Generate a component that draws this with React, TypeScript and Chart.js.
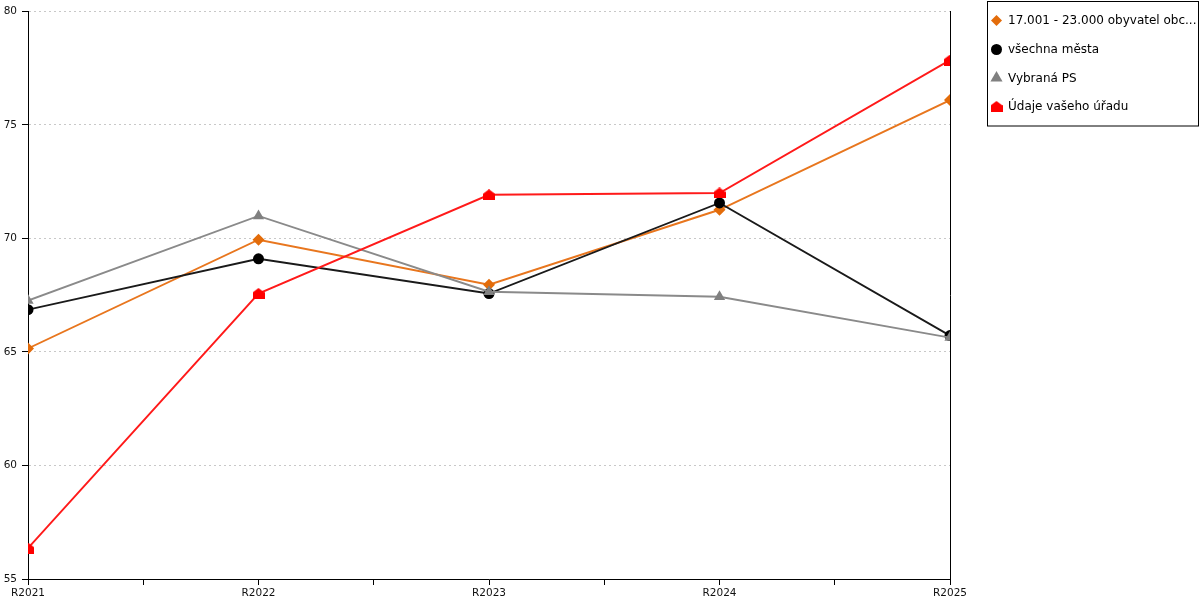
import React, { useEffect, useRef } from "react";
import { Chart, registerables } from "chart.js";

Chart.register(...registerables);

const categories = ["R2021", "R2022", "R2023", "R2024", "R2025"];
const seriesLabels = [
  "17.001 - 23.000 obyvatel obc...",
  "všechna města",
  "Vybraná PS",
  "Údaje vašeho úřadu",
];
const orangeValues = [65.15, 69.94, 67.96, 71.26, 76.09];
const blackValues = [66.86, 69.1, 67.57, 71.56, 65.72];
const grayValues = [67.26, 70.99, 67.65, 67.43, 65.63];
const redValues = [56.36, 67.57, 71.92, 72.0, 77.85];
const yTicks = [55, 60, 65, 70, 75, 80];

const FONT = "'DejaVu Sans', Verdana, sans-serif";

function makeHouse(color: string): HTMLCanvasElement {
  const c = document.createElement("canvas");
  c.width = 12;
  c.height = 11;
  const g = c.getContext("2d")!;
  g.fillStyle = color;
  g.beginPath();
  g.moveTo(6, 0);
  g.lineTo(12, 4.5);
  g.lineTo(12, 11);
  g.lineTo(0, 11);
  g.lineTo(0, 4.5);
  g.closePath();
  g.fill();
  return c;
}

function drawMarker(ctx: CanvasRenderingContext2D, style: any, x: number, y: number, r: number, color: string) {
  ctx.save();
  ctx.fillStyle = color;
  ctx.beginPath();
  if (style === "rectRot") {
    ctx.moveTo(x, y - r);
    ctx.lineTo(x + r, y);
    ctx.lineTo(x, y + r);
    ctx.lineTo(x - r, y);
    ctx.closePath();
    ctx.fill();
  } else if (style === "circle") {
    ctx.arc(x, y, r, 0, Math.PI * 2);
    ctx.fill();
  } else if (style === "triangle") {
    ctx.moveTo(x, y - r);
    ctx.lineTo(x + r * 0.866, y + r * 0.5);
    ctx.lineTo(x - r * 0.866, y + r * 0.5);
    ctx.closePath();
    ctx.fill();
  } else if (style instanceof HTMLCanvasElement) {
    ctx.drawImage(style, x - style.width / 2, y - style.height / 2);
  }
  ctx.restore();
}

export default function App() {
  const ref = useRef<HTMLCanvasElement | null>(null);

  useEffect(() => {
    document.body.style.margin = "0";
    const canvas = ref.current!;
    const house = makeHouse("#ff0000");

    const toPts = (vals: number[]) => vals.map((v, i) => ({ x: i, y: v }));

    const datasets: any[] = [
      {
        label: seriesLabels[0],
        data: toPts(orangeValues),
        borderColor: "#e8761e",
        backgroundColor: "#e36c0a",
        pointStyle: "rectRot",
        pointRadius: 6,
        order: 4,
      },
      {
        label: seriesLabels[1],
        data: toPts(blackValues),
        borderColor: "#1a1a1a",
        backgroundColor: "#000000",
        pointStyle: "circle",
        pointRadius: 5.5,
        order: 3,
      },
      {
        label: seriesLabels[2],
        data: toPts(grayValues),
        borderColor: "#8a8a8a",
        backgroundColor: "#808080",
        pointStyle: "triangle",
        pointRadius: 6.5,
        order: 2,
      },
      {
        label: seriesLabels[3],
        data: toPts(redValues),
        borderColor: "#ff1a1a",
        backgroundColor: "#ff0000",
        pointStyle: house,
        pointRadius: 6,
        order: 1,
      },
    ].map((d) => ({
      ...d,
      borderWidth: 1.9,
      pointBorderWidth: 0,
      pointBackgroundColor: d.backgroundColor,
      pointBorderColor: d.backgroundColor,
      tension: 0,
      fill: false,
    }));

    const legendPlugin = {
      id: "boxLegend",
      afterDraw(chart: any) {
        const ctx = chart.ctx as CanvasRenderingContext2D;
        ctx.save();
        ctx.strokeStyle = "#000";
        ctx.lineWidth = 1;
        ctx.strokeRect(987.5, 1.5, 211, 124.5);
        ctx.font = `12px ${FONT}`;
        ctx.textBaseline = "middle";
        ctx.fillStyle = "#000";
        const rows = [20.5, 49.5, 78, 106.5];
        chart.data.datasets.forEach((ds: any, i: number) => {
          const y = rows[i];
          const r = ds.pointStyle === "rectRot" ? 5.5 : ds.pointStyle === "circle" ? 5.5 : 7;
          drawMarker(ctx, ds.pointStyle, 996.5, y, r, ds.pointBackgroundColor);
          ctx.fillStyle = "#000";
          ctx.fillText(ds.label, 1008, y + 0.5);
        });
        ctx.restore();
      },
    };

    const chart = new Chart(canvas, {
      type: "line",
      data: { datasets },
      options: {
        animation: false,
        responsive: false,
        devicePixelRatio: 1,
        layout: { padding: { top: 10, right: 250, left: 0, bottom: 0 } },
        plugins: { legend: { display: false }, tooltip: { enabled: false } },
        scales: {
          x: {
            type: "linear",
            min: 0,
            max: categories.length - 1,
            afterBuildTicks: (s: any) => {
              const t: any[] = [];
              for (let v = 0; v <= categories.length - 1 + 1e-9; v += 0.5) t.push({ value: v });
              s.ticks = t;
            },
            afterFit: (s: any) => {
              s.height = 21;
            },
            ticks: {
              autoSkip: false,
              maxRotation: 0,
              padding: 2,
              color: "#111",
              font: { family: FONT, size: 10.5 },
              callback: (v: any) => (Number.isInteger(v) ? categories[v] : ""),
            },
            grid: {
              drawOnChartArea: false,
              tickLength: 6,
              tickColor: "#000",
              color: "#000",
            },
            border: { color: "#000", width: 1 },
          },
          y: {
            type: "linear",
            min: 55,
            max: 80,
            afterBuildTicks: (s: any) => {
              s.ticks = yTicks.map((v) => ({ value: v }));
            },
            afterFit: (s: any) => {
              s.width = 28;
            },
            ticks: {
              padding: 5,
              color: "#111",
              font: { family: FONT, size: 10.5 },
            },
            grid: {
              color: "#c8c8c8",
              tickColor: "#000",
              tickLength: 6,
              lineWidth: 1,
            },
            border: { color: "#000", width: 1, dash: [2, 3] },
          },
          y2: {
            type: "linear",
            position: "right",
            min: 55,
            max: 80,
            afterFit: (s: any) => {
              s.width = 0;
            },
            ticks: { display: false },
            grid: { drawOnChartArea: false, drawTicks: false },
            border: { color: "#000", width: 1 },
          },
        },
      } as any,
      plugins: [legendPlugin],
    });

    return () => chart.destroy();
  }, []);

  return (
    <div style={{ width: 1200, height: 600, position: "relative" }}>
      <canvas ref={ref} width={1200} height={600} style={{ display: "block" }} />
    </div>
  );
}
